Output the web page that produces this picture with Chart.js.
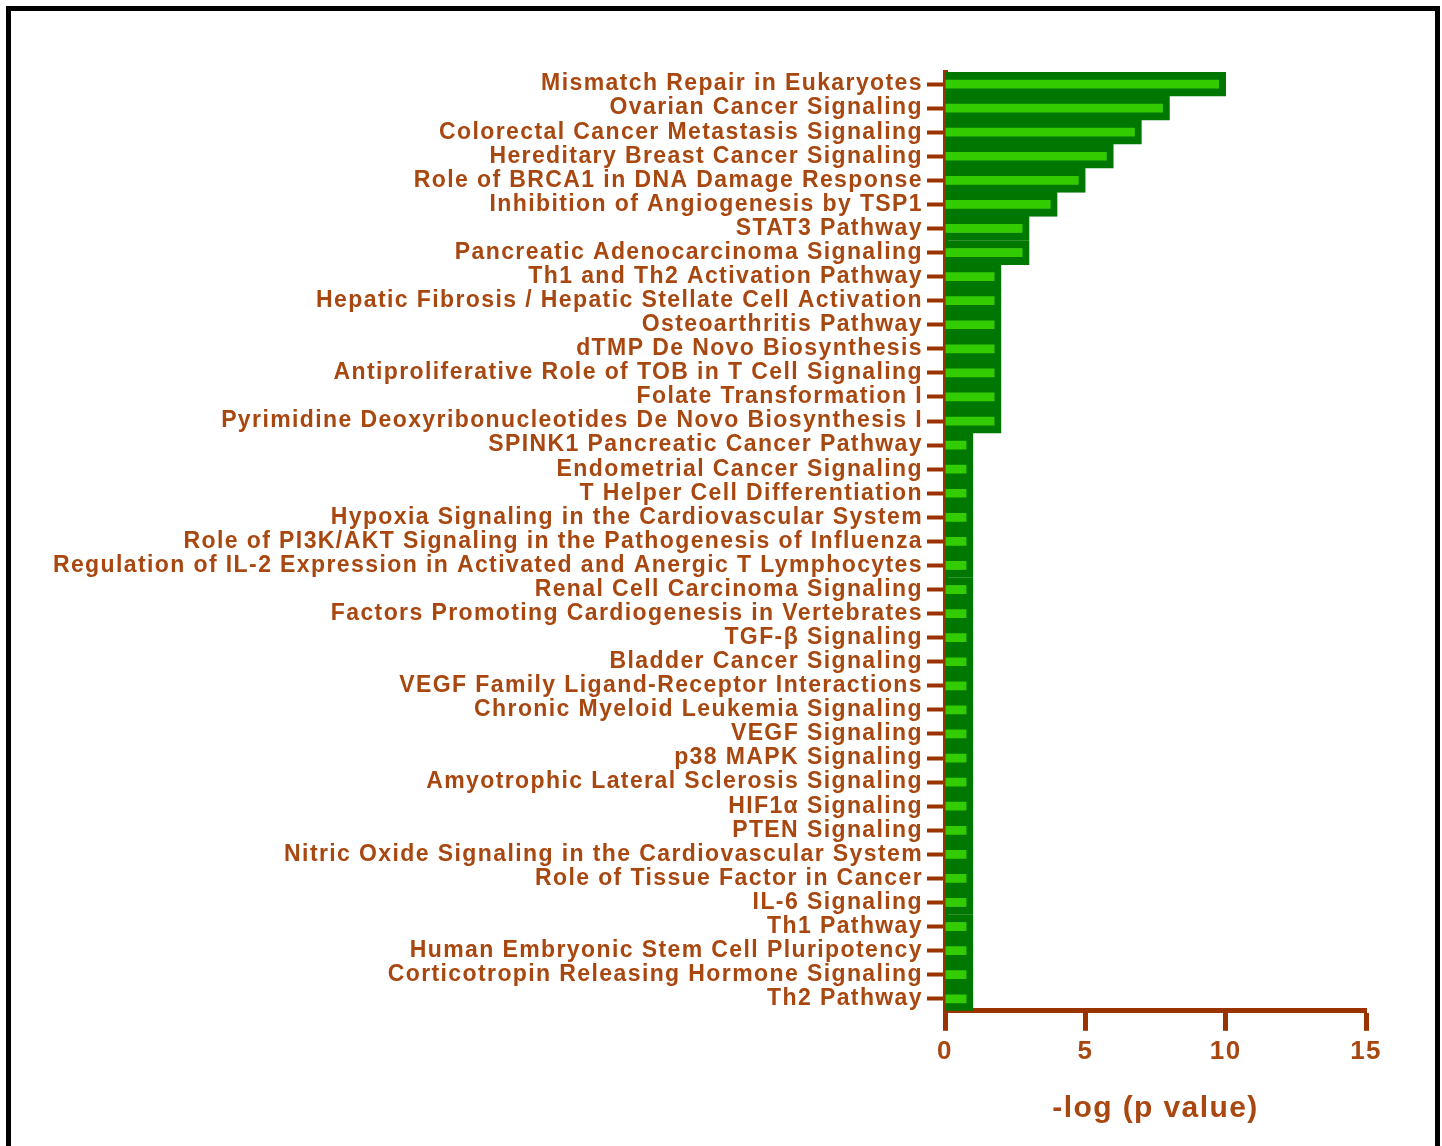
<!DOCTYPE html>
<html lang="en">
<head>
    <meta charset="UTF-8">
    <title>Pathway enrichment</title>
    <script src="https://cdn.jsdelivr.net/npm/chart.js"></script>
    <style>
        body { margin: 0; background: #fff; }
        #wrap { position: relative; width: 1442px; height: 1146px; overflow: hidden; }
        #frame { position: absolute; left: 6px; top: 6px; width: 1424px; height: 1200px; border: 5px solid #000; pointer-events: none; }
        canvas { position: absolute; left: 0; top: 0; }
    </style>
</head>
<body>
<div id="wrap">
    <canvas id="pathwayChart" width="1442" height="1146"></canvas>
    <div id="frame"></div>
</div>
<script>
    // pathway names, top to bottom
    var pathways = [
        'Mismatch Repair in Eukaryotes',
        'Ovarian Cancer Signaling',
        'Colorectal Cancer Metastasis Signaling',
        'Hereditary Breast Cancer Signaling',
        'Role of BRCA1 in DNA Damage Response',
        'Inhibition of Angiogenesis by TSP1',
        'STAT3 Pathway',
        'Pancreatic Adenocarcinoma Signaling',
        'Th1 and Th2 Activation Pathway',
        'Hepatic Fibrosis / Hepatic Stellate Cell Activation',
        'Osteoarthritis Pathway',
        'dTMP De Novo Biosynthesis',
        'Antiproliferative Role of TOB in T Cell Signaling',
        'Folate Transformation I',
        'Pyrimidine Deoxyribonucleotides De Novo Biosynthesis I',
        'SPINK1 Pancreatic Cancer Pathway',
        'Endometrial Cancer Signaling',
        'T Helper Cell Differentiation',
        'Hypoxia Signaling in the Cardiovascular System',
        'Role of PI3K/AKT Signaling in the Pathogenesis of Influenza',
        'Regulation of IL-2 Expression in Activated and Anergic T Lymphocytes',
        'Renal Cell Carcinoma Signaling',
        'Factors Promoting Cardiogenesis in Vertebrates',
        'TGF-β Signaling',
        'Bladder Cancer Signaling',
        'VEGF Family Ligand-Receptor Interactions',
        'Chronic Myeloid Leukemia Signaling',
        'VEGF Signaling',
        'p38 MAPK Signaling',
        'Amyotrophic Lateral Sclerosis Signaling',
        'HIF1α Signaling',
        'PTEN Signaling',
        'Nitric Oxide Signaling in the Cardiovascular System',
        'Role of Tissue Factor in Cancer',
        'IL-6 Signaling',
        'Th1 Pathway',
        'Human Embryonic Stem Cell Pluripotency',
        'Corticotropin Releasing Hormone Signaling',
        'Th2 Pathway'
    ];

    // -log(p value) per pathway
    var negLogP = [
        10, 8, 7, 6, 5, 4, 3, 3,
        2, 2, 2, 2, 2, 2, 2,
        1, 1, 1, 1, 1, 1, 1, 1, 1, 1, 1, 1, 1, 1, 1, 1, 1, 1, 1, 1, 1, 1, 1, 1
    ];

    var xTicks = [0, 5, 10, 15];
    var axisTitle = '-log (p value)';

    var brown = '#993300';
    var textBrown = '#A8470F';

    // the original text is set a little loose
    var letterSpacingPlugin = {
        id: 'letterSpacing',
        beforeDraw: function (chart) { chart.ctx.letterSpacing = '1.4px'; }
    };

    var ctx = document.getElementById('pathwayChart').getContext('2d');
    var chart = new Chart(ctx, {
        type: 'bar',
        data: {
            labels: pathways,
            datasets: [{
                data: negLogP,
                backgroundColor: '#33CC00',
                borderColor: '#007700',
                borderWidth: { top: 8, bottom: 8, right: 7, left: 0 },
                borderSkipped: 'start',
                barPercentage: 1,
                categoryPercentage: 1
            }]
        },
        options: {
            indexAxis: 'y',
            responsive: false,
            animation: false,
            layout: { padding: { top: 72, right: 76, bottom: 19, left: 0 } },
            plugins: {
                legend: { display: false },
                tooltip: { enabled: false }
            },
            scales: {
                x: {
                    min: xTicks[0],
                    max: xTicks[xTicks.length - 1],
                    afterBuildTicks: function (scale) {
                        scale.ticks = xTicks.map(function (v) { return { value: v }; });
                    },
                    grid: {
                        drawOnChartArea: false,
                        drawTicks: true,
                        tickLength: 20,
                        tickWidth: 5,
                        tickColor: brown
                    },
                    border: { color: brown, width: 5 },
                    ticks: {
                        color: textBrown,
                        padding: 5,
                        font: { family: 'Liberation Sans, Arial', size: 26, weight: 'bold' }
                    },
                    title: {
                        display: true,
                        text: axisTitle,
                        color: textBrown,
                        padding: { top: 19, bottom: 0 },
                        font: { family: 'Liberation Sans, Arial', size: 30, weight: 'bold' }
                    }
                },
                y: {
                    afterFit: function (scale) { scale.width = 945; },
                    grid: {
                        offset: false,
                        drawOnChartArea: false,
                        drawTicks: true,
                        tickLength: 18,
                        tickWidth: 4,
                        tickColor: brown
                    },
                    border: { color: brown, width: 5 },
                    ticks: {
                        color: textBrown,
                        padding: 4,
                        autoSkip: false,
                        font: { family: 'Liberation Sans, Arial', size: 23, weight: 'bold' }
                    }
                }
            }
        },
        plugins: [letterSpacingPlugin]
    });
</script>
</body>
</html>
